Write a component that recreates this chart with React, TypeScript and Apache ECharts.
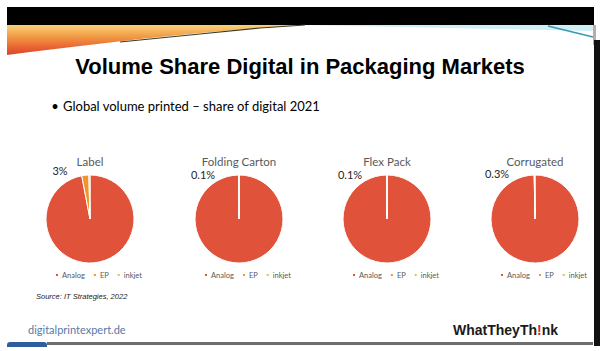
import React, { useEffect, useRef } from "react";
import * as echarts from "echarts";

const pieTitles = ["Label", "Folding Carton", "Flex Pack", "Corrugated"];
const segmentNames = ["Analog", "EP", "inkjet"];
const analogShare = [97.0, 99.9, 99.9, 99.7];
const epShare = [2.6, 0.06, 0.06, 0.1];
const inkjetShare = [0.4, 0.04, 0.04, 0.2];
const digitalLabels = ["3%", "0.1%", "0.1%", "0.3%"];

const mainTitle = "Volume Share Digital in Packaging Markets";
const bulletText = "Global volume printed \u2013 share of digital 2021";
const sourceText = "Source: IT Strategies, 2022";
const footerLeft = "digitalprintexpert.de";

const segColors = ["#E0533A", "#F0952E", "#D4CB45"];
const centersX = [90, 239, 387, 535];
const centerY = 219;
const radius = 44;
const labelOffsets = [
  [-30, -49],
  [-36, -45],
  [-37, -45],
  [-38, -46],
];

export default function App() {
  const ref = useRef<HTMLDivElement>(null);
  useEffect(() => {
    document.body.style.margin = "0";
    const chart = echarts.init(ref.current!, null, { renderer: "svg" });
    const font = "Lato";
    const series: any[] = pieTitles.map((t, i) => ({
      type: "pie",
      name: t,
      center: [centersX[i], centerY],
      radius: [0, radius],
      startAngle: 90,
      clockwise: true,
      silent: true,
      label: { show: false },
      labelLine: { show: false },
      emphasis: { disabled: true },
      itemStyle: { borderColor: "#ffffff", borderWidth: 1 },
      data: [
        { name: segmentNames[0], value: analogShare[i] },
        { name: segmentNames[1], value: epShare[i] },
        { name: segmentNames[2], value: inkjetShare[i] },
      ],
    }));
    const titles: any[] = pieTitles.map((t, i) => ({
      text: t,
      left: centersX[i],
      top: 155,
      textAlign: "center",
      padding: 0,
      textStyle: { fontSize: 11.5, fontWeight: "normal", color: "#595959", fontFamily: font },
    }));
    const legends: any[] = pieTitles.map((t, i) => ({
      data: segmentNames,
      left: centersX[i] - 36,
      top: 271,
      padding: 0,
      itemWidth: 4,
      itemHeight: 4,
      itemGap: 7,
      icon: "rect",
      selectedMode: false,
      textStyle: { fontSize: 7.5, color: "#595959", fontFamily: font, padding: [0, 0, 0, -2] },
    }));
    const labelTexts: any[] = digitalLabels.map((l, i) => ({
      type: "text",
      silent: true,
      style: {
        x: centersX[i] + labelOffsets[i][0],
        y: centerY + labelOffsets[i][1],
        text: l,
        textAlign: "center",
        textVerticalAlign: "middle",
        fontSize: 11,
        fontFamily: font,
        fill: "#262626",
      },
    }));
    const graphics: any[] = [
      { type: "rect", shape: { x: 7, y: 7, width: 587, height: 18 }, style: { fill: "#000000" }, silent: true },
      {
        type: "polygon",
        silent: true,
        shape: {
          points: [[7, 25], [305, 25], [260, 28], [200, 33], [140, 39], [80, 46], [30, 52], [7, 55]],
        },
        style: {
          fill: new echarts.graphic.LinearGradient(0, 0, 0, 1, [
            { offset: 0, color: "#F8D27A" },
            { offset: 0.35, color: "#F2A048" },
            { offset: 0.7, color: "#EA6A34" },
            { offset: 1, color: "#D8442A" },
          ]),
        },
      },
      {
        type: "polyline",
        silent: true,
        shape: { points: [[120, 42], [200, 34], [260, 28], [305, 25]] },
        style: { stroke: "#3D3A22", lineWidth: 1.2, fill: "none" },
      },
      {
        type: "polygon",
        silent: true,
        shape: { points: [[300, 25], [594, 25], [594, 31], [450, 28]] },
        style: { fill: "#CDEFF6" },
      },
      {
        type: "line",
        silent: true,
        shape: { x1: 548, y1: 26, x2: 593, y2: 37 },
        style: { stroke: "#3A97AE", lineWidth: 1.5 },
      },
      { type: "rect", shape: { x: 593, y: 25, width: 3, height: 20 }, style: { fill: "#C9A898" }, silent: true },
      { type: "rect", shape: { x: 594, y: 40, width: 6, height: 306 }, style: { fill: "#111111" }, silent: true },
      { type: "rect", shape: { x: 47, y: 342, width: 546, height: 3 }, style: { fill: "#6E6E6E" }, silent: true },
      { type: "rect", shape: { x: 7, y: 342, width: 40, height: 5, r: [3, 3, 0, 0] }, style: { fill: "#2F5E9E" }, silent: true },
      {
        type: "text",
        silent: true,
        style: {
          x: 300, y: 66, text: mainTitle, textAlign: "center", textVerticalAlign: "middle",
          fontSize: 22, fontWeight: "bold", fontFamily: "Liberation Sans", fill: "#000000",
        },
      },
      {
        type: "text",
        silent: true,
        style: {
          x: 55, y: 106, text: "\u2022", textAlign: "center", textVerticalAlign: "middle",
          fontSize: 13, fontFamily: font, fill: "#000000",
        },
      },
      {
        type: "text",
        silent: true,
        style: {
          x: 63, y: 106, text: bulletText, textAlign: "left", textVerticalAlign: "middle",
          fontSize: 13, fontFamily: font, fill: "#000000",
        },
      },
      {
        type: "text",
        silent: true,
        style: {
          x: 36, y: 296, text: sourceText, textAlign: "left", textVerticalAlign: "middle",
          fontSize: 7.5, fontStyle: "italic", fontFamily: "Liberation Sans", fill: "#222222",
        },
      },
      {
        type: "text",
        silent: true,
        style: {
          x: 28, y: 329, text: footerLeft, textAlign: "left", textVerticalAlign: "middle",
          fontSize: 11, fontFamily: font, fill: "#5A78A6",
        },
      },
      {
        type: "text",
        silent: true,
        style: {
          x: 558, y: 330, textAlign: "right", textVerticalAlign: "middle",
          text: "{a|WhatTheyTh}{b|!}{a|nk}",
          rich: {
            a: { fontSize: 14, fontWeight: "bold", fontFamily: "Liberation Sans", fill: "#1A1A1A", color: "#1A1A1A" },
            b: { fontSize: 14, fontWeight: "bold", fontFamily: "Liberation Sans", fill: "#D0282E", color: "#D0282E" },
          },
        },
      },
      ...labelTexts,
    ];
    chart.setOption({
      animation: false,
      backgroundColor: "#ffffff",
      color: segColors,
      title: titles,
      legend: legends,
      series,
      graphic: graphics,
    });
    return () => chart.dispose();
  }, []);
  return <div ref={ref} style={{ width: 600, height: 351 }} />;
}
